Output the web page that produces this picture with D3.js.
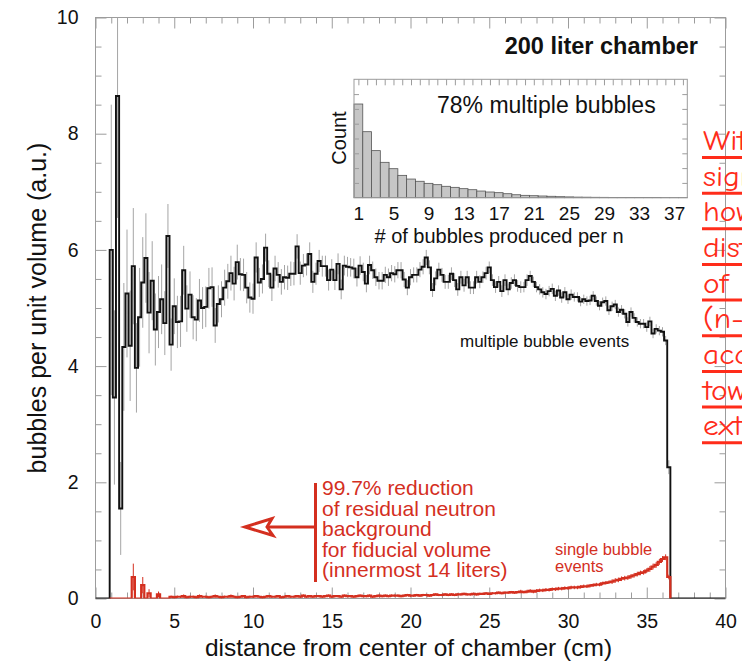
<!DOCTYPE html>
<html>
<head>
<meta charset="utf-8">
<script src="https://cdn.jsdelivr.net/npm/d3@7"></script>
<style>
  body { margin: 0; background: #fff; }
  svg { display: block; }
  text { font-family: "Liberation Sans", Arial, Helvetica, sans-serif; }
</style>
</head>
<body>
<svg id="chart" width="742" height="663"></svg>
<script>
// ---- histogram binning (cm) ----
const binStart = 0.9;
const binWidth = 0.2;

// multiple-bubble events per unit volume, one value per bin
const multiBubble = [
  6.00,3.46,8.65,1.55,4.33,5.25,4.35,5.72,3.97,4.84,
  5.44,5.86,4.92,5.47,4.63,4.93,5.15,4.74,6.24,4.37,
  5.03,4.76,4.77,5.65,4.99,5.23,4.84,4.80,5.13,5.00,
  5.02,5.34,5.36,4.70,5.07,5.15,5.35,5.46,5.60,5.42,
  5.79,5.58,5.57,5.35,5.18,5.16,5.87,5.44,5.50,6.04,
  5.59,5.35,5.68,5.57,5.45,5.53,5.52,5.59,5.59,6.06,
  5.60,5.73,5.75,5.93,5.45,5.59,5.81,5.72,5.72,5.48,
  5.66,5.48,5.76,5.32,5.73,5.71,5.70,5.68,5.53,5.73,
  5.62,5.42,5.74,5.65,5.53,5.47,5.47,5.57,5.53,5.60,
  5.58,5.65,5.65,5.49,5.35,5.53,5.57,5.57,5.66,5.71,
  5.87,5.70,5.31,5.51,5.66,5.57,5.45,5.45,5.59,5.48,
  5.32,5.53,5.39,5.53,5.35,5.35,5.53,5.45,5.53,5.60,
  5.70,5.48,5.36,5.45,5.29,5.48,5.32,5.43,5.48,5.38,
  5.36,5.36,5.48,5.55,5.45,5.36,5.32,5.27,5.24,5.29,
  5.33,5.21,5.30,5.18,5.27,5.15,5.23,5.19,5.19,5.11,
  5.15,5.12,5.13,5.21,5.12,5.04,5.10,5.12,4.96,5.03,
  5.06,4.93,4.97,4.90,4.76,4.93,4.83,4.76,4.73,4.73,
  4.67,4.77,4.56,4.64,4.61,4.59,4.44,2.26
];
const multiBubbleErr = [
  2.50,1.50,2.10,0.80,1.10,1.10,0.95,1.00,0.77,0.85,
  0.78,0.77,0.70,0.68,0.62,0.62,0.60,0.55,0.55,0.45,
  0.48,0.45,0.44,0.42,0.40,0.40,0.38,0.37,0.37,0.36,
  0.35,0.35,0.34,0.30,0.32,0.31,0.31,0.30,0.30,0.29,
  0.30,0.28,0.28,0.27,0.26,0.26,0.26,0.25,0.25,0.24,
  0.23,0.23,0.22,0.22,0.22,0.21,0.21,0.21,0.20,0.21,
  0.20,0.20,0.19,0.20,0.19,0.19,0.19,0.18,0.18,0.18,
  0.18,0.17,0.18,0.17,0.17,0.17,0.16,0.17,0.16,0.16,
  0.16,0.15,0.16,0.15,0.15,0.15,0.15,0.14,0.15,0.14,
  0.14,0.14,0.14,0.13,0.13,0.14,0.13,0.13,0.13,0.13,
  0.13,0.12,0.12,0.12,0.12,0.12,0.12,0.12,0.11,0.12,
  0.11,0.11,0.11,0.11,0.11,0.11,0.11,0.11,0.10,0.11,
  0.10,0.10,0.10,0.10,0.10,0.10,0.10,0.10,0.10,0.10,
  0.10,0.09,0.10,0.09,0.09,0.09,0.09,0.09,0.09,0.09,
  0.09,0.09,0.09,0.09,0.09,0.08,0.09,0.08,0.08,0.08,
  0.08,0.08,0.08,0.08,0.08,0.08,0.08,0.08,0.08,0.08,
  0.08,0.08,0.08,0.08,0.08,0.08,0.08,0.08,0.08,0.08,
  0.08,0.08,0.08,0.08,0.08,0.08,0.08,0.12
];

// single-bubble events per unit volume, same bins
const singleBubble = [
  0,0,0,0,0,0,0,0.37,0,0,0.23,0,0.09,0,0,0.07,0,0,0,
  0.03,0.02,0.03,0.03,0.04,0.02,0.03,0.03,0.02,0.04,0.03,0.03,0.02,0.03,0.04,0.03,0.02,0.03,0.03,0.04,0.03,0.02,
  0.03,0.04,0.02,0.03,0.03,0.04,0.03,0.02,0.03,0.04,0.03,0.03,0.04,0.02,0.03,0.04,0.03,0.03,0.04,0.03,0.05,0.03,0.04,0.03,0.04,
  0.04,0.03,0.04,0.05,0.03,0.04,0.04,0.03,0.05,0.04,0.04,0.03,0.04,0.05,0.04,0.04,0.05,0.03,0.04,0.05,0.04,0.05,0.04,0.05,0.05,
  0.05,0.04,0.05,0.06,0.05,0.05,0.06,0.05,0.06,0.06,0.05,0.06,0.07,0.06,0.06,0.07,0.06,0.07,0.06,0.07,0.07,0.08,0.07,0.07,0.08,
  0.07,0.08,0.08,0.09,0.08,0.09,0.09,0.10,0.09,0.10,0.10,0.11,0.10,0.11,0.12,0.11,0.12,0.13,0.12,0.13,
  0.14,0.14,0.15,0.15,0.16,0.16,0.17,0.17,0.18,0.18,0.19,0.19,0.19,0.20,0.21,
  0.21,0.22,0.23,0.24,0.24,0.26,0.27,0.28,0.29,0.31,0.32,0.34,0.35,0.36,0.38,
  0.40,0.42,0.44,0.45,0.48,0.51,0.55,0.58,0.63,0.68,0.71,0.37
];
const singleBubbleErr = [
  0,0,0,0,0,0,0,0.23,0,0,0.14,0,0.07,0,0,0.05,0,0,0,
  0.02,0.02,0.02,0.02,0.03,0.02,0.02,0.02,0.02,0.03,0.02,0.02,0.02,0.02,0.03,0.02,0.02,0.02,0.02,0.03,0.02,0.02,
  0.02,0.02,0.02,0.02,0.02,0.02,0.02,0.02,0.02,0.02,0.02,0.02,0.02,0.02,0.02,0.02,0.02,0.02,0.02,0.02,0.02,0.02,0.02,0.02,0.02,
  0.02,0.02,0.02,0.02,0.02,0.02,0.02,0.02,0.02,0.02,0.02,0.02,0.02,0.02,0.02,0.02,0.02,0.02,0.02,0.02,0.02,0.02,0.02,0.02,0.02,
  0.02,0.02,0.02,0.02,0.02,0.02,0.02,0.02,0.02,0.02,0.02,0.02,0.02,0.02,0.02,0.02,0.02,0.02,0.02,0.02,0.02,0.02,0.02,0.02,0.02,
  0.02,0.02,0.02,0.02,0.02,0.02,0.02,0.02,0.02,0.02,0.02,0.02,0.02,0.02,0.03,0.02,0.03,0.03,0.03,0.03,
  0.03,0.03,0.03,0.03,0.03,0.03,0.03,0.03,0.03,0.03,0.03,0.03,0.03,0.03,0.03,
  0.03,0.03,0.03,0.03,0.03,0.03,0.03,0.03,0.04,0.04,0.04,0.04,0.04,0.04,0.04,
  0.04,0.04,0.04,0.04,0.04,0.05,0.05,0.05,0.05,0.05,0.05,0.04
];

const xTickValues = [0, 5, 10, 15, 20, 25, 30, 35, 40];
const yTickValues = [0, 2, 4, 6, 8, 10];

// inset: number of bubbles produced per neutron
const bubbleCounts = [
  6330,4460,3180,2390,1960,1510,1260,1110,970,880,
  770,700,610,540,450,385,340,270,200,160,
  135,115,95,68,54,40,34,27,24,20,
  17,14,10,8,7,5,4,3
];
const bubbleTickValues = [1, 5, 9, 13, 17, 21, 25, 29, 33, 37];

const noteLines = ["99.7% reduction", "of residual neutron", "background",
                   "for fiducial volume", "(innermost 14 liters)"];
const sideLines = ["With", "signal", "how", "distribution", "of",
                   "(n-p)", "accumulates", "towards", "exterior"];

// ---- drawing ----
const RED = "#d42f1f";
const SIDE_RED = "#ff2c1a";
const FRAME = "#9c9c9c";

const svg = d3.select("#chart");
const x = d3.scaleLinear().domain([0, 40]).range([95.5, 725.5]);
const y = d3.scaleLinear().domain([0, 10]).range([598.5, 17.5]);

svg.append("defs").append("clipPath").attr("id", "plotClip")
  .append("rect")
  .attr("x", x(0)).attr("y", y(10))
  .attr("width", x(40) - x(0)).attr("height", y(0) - y(10));

function tickLayer(axisFn, scale, values, size, tx, ty) {
  const g = svg.append("g")
    .attr("transform", `translate(${tx},${ty})`)
    .call(axisFn(scale).tickValues(values).tickSize(-size).tickFormat(""));
  g.select(".domain").remove();
  g.selectAll("line").attr("stroke", FRAME).attr("stroke-width", 1);
  return g;
}

const xMinor = d3.range(1, 40).filter(v => v % 5 !== 0);
const yMinor = d3.range(0.5, 10, 0.5).filter(v => v % 2 !== 0);

// inward ticks on all four sides
tickLayer(d3.axisBottom, x, xMinor, 6, 0, y(0));
tickLayer(d3.axisBottom, x, xTickValues, 11, 0, y(0));
tickLayer(d3.axisTop, x, xMinor, 6, 0, y(10));
tickLayer(d3.axisTop, x, xTickValues, 11, 0, y(10));
tickLayer(d3.axisLeft, y, yMinor, 6, x(0), 0);
tickLayer(d3.axisLeft, y, yTickValues, 11, x(0), 0);
tickLayer(d3.axisRight, y, yMinor, 6, x(40), 0);
tickLayer(d3.axisRight, y, yTickValues, 11, x(40), 0);

// tick labels
const xLab = svg.append("g").attr("transform", `translate(0,${y(0)})`)
  .call(d3.axisBottom(x).tickValues(xTickValues).tickSize(0).tickPadding(16).tickFormat(d3.format("d")));
xLab.select(".domain").remove();
xLab.selectAll("text").attr("font-size", 19.5).attr("fill", "#111")
  .style("font-family", '"Liberation Sans", Arial, sans-serif');

const yLab = svg.append("g").attr("transform", `translate(${x(0)},0)`)
  .call(d3.axisLeft(y).tickValues(yTickValues).tickSize(0).tickPadding(17).tickFormat(d3.format("d")));
yLab.select(".domain").remove();
yLab.selectAll("text").attr("font-size", 19.5).attr("fill", "#111")
  .style("font-family", '"Liberation Sans", Arial, sans-serif');

// frame
svg.append("rect")
  .attr("x", x(0)).attr("y", y(10))
  .attr("width", x(40) - x(0)).attr("height", y(0) - y(10))
  .attr("fill", "none").attr("stroke", FRAME).attr("stroke-width", 1);

// histogram helpers
const binCenter = i => binStart + binWidth * (i + 0.5);
const binEdge = i => binStart + binWidth * i;
const stepLine = d3.line().x(d => x(d[0])).y(d => y(d[1])).curve(d3.curveStepAfter);

const plot = svg.append("g").attr("clip-path", "url(#plotClip)");

// multiple-bubble error bars
plot.append("g").selectAll("line").data(multiBubble).join("line")
  .attr("x1", (d, i) => x(binCenter(i))).attr("x2", (d, i) => x(binCenter(i)))
  .attr("y1", (d, i) => y(d - multiBubbleErr[i]))
  .attr("y2", (d, i) => y(d + multiBubbleErr[i]))
  .attr("stroke", "#a5a5a5").attr("stroke-width", 1);

// multiple-bubble step histogram
const multiPts = [[0, 0]]
  .concat(multiBubble.map((v, i) => [binEdge(i), v]))
  .concat([[binEdge(multiBubble.length), 0], [40, 0]]);
plot.append("path").attr("d", stepLine(multiPts))
  .attr("fill", "none").attr("stroke", "#111").attr("stroke-width", 1.9)
  .attr("stroke-linejoin", "miter");

// single-bubble error bars
plot.append("g").selectAll("line")
  .data(singleBubble.map((v, i) => [v, singleBubbleErr[i], i]).filter(d => d[1] > 0))
  .join("line")
  .attr("x1", d => x(binCenter(d[2]))).attr("x2", d => x(binCenter(d[2])))
  .attr("y1", d => y(Math.max(0, d[0] - d[1])))
  .attr("y2", d => y(d[0] + d[1]))
  .attr("stroke", RED).attr("stroke-width", 1);

// single-bubble step histogram
const singlePts = singleBubble.map((v, i) => [binEdge(i), v])
  .concat([[binEdge(singleBubble.length), 0]]);
plot.append("path").attr("d", stepLine(singlePts))
  .attr("fill", "none").attr("stroke", RED).attr("stroke-width", 2.2);

// axis titles
svg.append("text")
  .attr("transform", `translate(46,${(y(0) + y(10)) / 2}) rotate(-90)`)
  .attr("text-anchor", "middle").attr("font-size", 25).attr("fill", "#111")
  .text("bubbles per unit volume (a.u.)");
svg.append("text")
  .attr("x", (x(0) + x(40)) / 2 - 2).attr("y", 656)
  .attr("text-anchor", "middle").attr("font-size", 24.5).attr("fill", "#111")
  .text("distance from center of chamber (cm)");

// labels inside the plot
svg.append("text").attr("x", 698).attr("y", 54)
  .attr("text-anchor", "end").attr("font-size", 23.5).attr("font-weight", "bold")
  .attr("fill", "#111").text("200 liter chamber");
svg.append("text").attr("x", 460).attr("y", 347)
  .attr("font-size", 17).attr("fill", "#111").text("multiple bubble events");
svg.append("text").attr("x", 555).attr("y", 555)
  .attr("font-size", 16.5).attr("fill", RED).text("single bubble");
svg.append("text").attr("x", 555).attr("y", 572)
  .attr("font-size", 16.5).attr("fill", RED).text("events");

// fiducial-volume note with arrow
svg.append("g").selectAll("text").data(noteLines).join("text")
  .attr("x", 322).attr("y", (d, i) => 495 + i * 20.6)
  .attr("font-size", 21).attr("fill", RED).text(d => d);
svg.append("line").attr("x1", 315.5).attr("x2", 315.5).attr("y1", 483).attr("y2", 582)
  .attr("stroke", RED).attr("stroke-width", 3);
svg.append("line").attr("x1", 268).attr("x2", 315.5).attr("y1", 527).attr("y2", 527)
  .attr("stroke", RED).attr("stroke-width", 3);
svg.append("path")
  .attr("d", "M245,527 L272,518.5 L267,527 L273,535.5 Z")
  .attr("fill", "#fff").attr("stroke", RED).attr("stroke-width", 3)
  .attr("stroke-linejoin", "miter");

// ---- inset: bubbles produced per neutron ----
const xi = d3.scaleLinear().domain([0.5, 38.5]).range([354, 687.3]);
const yi = d3.scaleLinear().domain([0, 8000]).range([197.7, 79.3]);
const inset = svg.append("g");
inset.append("rect")
  .attr("x", xi(0.5)).attr("y", yi(8000))
  .attr("width", xi(38.5) - xi(0.5)).attr("height", yi(0) - yi(8000))
  .attr("fill", "#fff");
inset.append("g").selectAll("rect").data(bubbleCounts).join("rect")
  .attr("x", (d, i) => xi(i + 0.5)).attr("width", xi(1.5) - xi(0.5))
  .attr("y", d => yi(d)).attr("height", d => yi(0) - yi(d))
  .attr("fill", "#c6c6c6").attr("stroke", "#555").attr("stroke-width", 0.8);

function insetTicks(axisFn, scale, values, size, tx, ty) {
  const g = inset.append("g").attr("transform", `translate(${tx},${ty})`)
    .call(axisFn(scale).tickValues(values).tickSize(-size).tickFormat(""));
  g.select(".domain").remove();
  g.selectAll("line").attr("stroke", FRAME);
}
insetTicks(d3.axisTop, xi, d3.range(1, 39), 6, 0, yi(8000));
insetTicks(d3.axisLeft, yi, d3.range(1000, 8000, 1000), 5, xi(0.5), 0);
insetTicks(d3.axisRight, yi, d3.range(1000, 8000, 1000), 5, xi(38.5), 0);

inset.append("rect")
  .attr("x", xi(0.5)).attr("y", yi(8000))
  .attr("width", xi(38.5) - xi(0.5)).attr("height", yi(0) - yi(8000))
  .attr("fill", "none").attr("stroke", FRAME);

const ib = inset.append("g").attr("transform", `translate(0,${yi(0)})`)
  .call(d3.axisBottom(xi).tickValues(bubbleTickValues).tickSize(0).tickPadding(9).tickFormat(d3.format("d")));
ib.select(".domain").remove();
ib.selectAll("text").attr("font-size", 19).attr("fill", "#111")
  .style("font-family", '"Liberation Sans", Arial, sans-serif');

inset.append("text").attr("x", 499).attr("y", 243)
  .attr("text-anchor", "middle").attr("font-size", 20).attr("fill", "#111")
  .text("# of bubbles produced per n");
inset.append("text").attr("transform", "translate(346,138) rotate(-90)")
  .attr("text-anchor", "middle").attr("font-size", 20).attr("fill", "#111")
  .text("Count");
inset.append("text").attr("x", 437).attr("y", 113)
  .attr("font-size", 23).attr("fill", "#111").text("78% multiple bubbles");

// ---- underlined side note (runs off the right edge) ----
const side = svg.append("g");
side.selectAll("text").data(sideLines).join("text")
  .attr("transform", (d, i) => `translate(703,${150 + i * 35.65}) scale(1.12,1)`)
  .attr("font-size", 28).attr("fill", SIDE_RED)
  .style("font-family", '"Comic Sans MS", "Comic Neue", "DejaVu Sans", sans-serif')
  .text(d => d);
side.selectAll("line").data(sideLines).join("line")
  .attr("x1", 702).attr("x2", 742)
  .attr("y1", (d, i) => 157.5 + i * 35.65).attr("y2", (d, i) => 157.5 + i * 35.65)
  .attr("stroke", SIDE_RED).attr("stroke-width", 3);
</script>
</body>
</html>
